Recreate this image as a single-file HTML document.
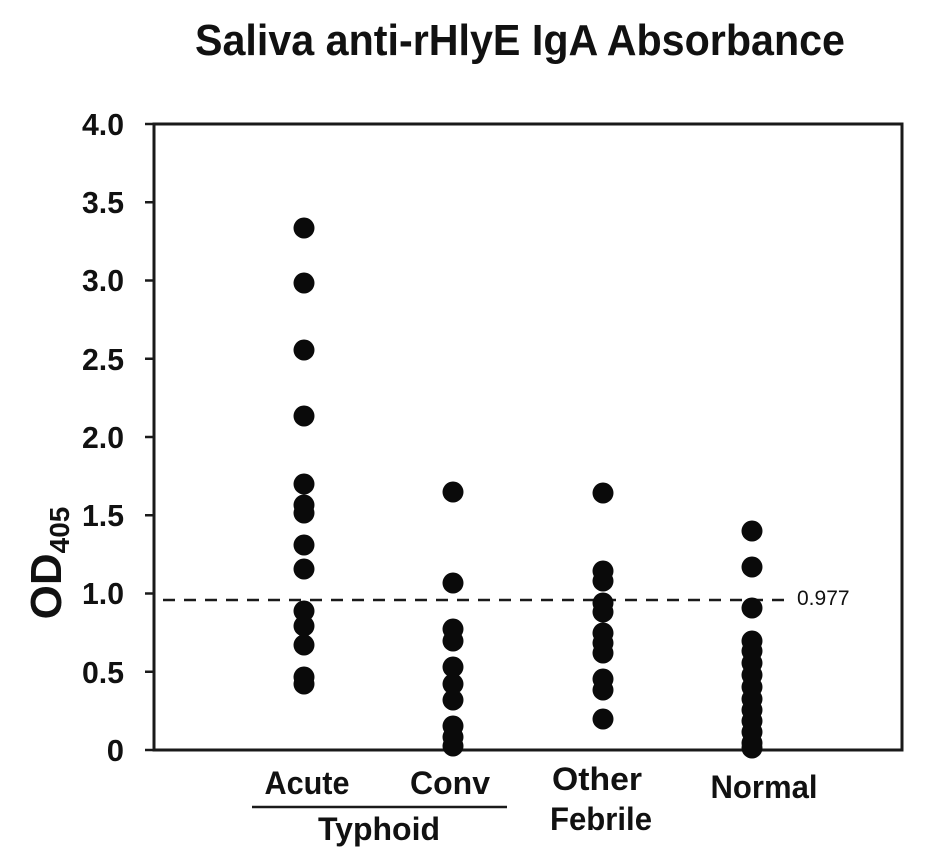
<!DOCTYPE html>
<html>
<head>
<meta charset="utf-8">
<style>
html,body{margin:0;padding:0;background:#fff;}
svg{display:block;}
text{font-family:"Liberation Sans",Arial,sans-serif;fill:#111;}
</style>
</head>
<body>
<svg width="933" height="864" viewBox="0 0 933 864" xmlns="http://www.w3.org/2000/svg">
  <rect width="933" height="864" fill="#fff"/>
  <!-- Title -->
  <text x="195" y="55" font-size="44" font-weight="bold" textLength="650" lengthAdjust="spacingAndGlyphs">Saliva anti-rHlyE IgA Absorbance</text>

  <!-- Plot frame -->
  <rect x="154" y="124" width="748" height="626" fill="none" stroke="#1a1a1a" stroke-width="3"/>

  <!-- Y ticks -->
  <g stroke="#1a1a1a" stroke-width="2.5">
    <line x1="145" y1="124" x2="154" y2="124"/>
    <line x1="145" y1="202.25" x2="154" y2="202.25"/>
    <line x1="145" y1="280.5" x2="154" y2="280.5"/>
    <line x1="145" y1="358.75" x2="154" y2="358.75"/>
    <line x1="145" y1="437" x2="154" y2="437"/>
    <line x1="145" y1="515.25" x2="154" y2="515.25"/>
    <line x1="145" y1="593.5" x2="154" y2="593.5"/>
    <line x1="145" y1="671.75" x2="154" y2="671.75"/>
    <line x1="145" y1="750" x2="154" y2="750"/>
  </g>
  <g font-size="31" font-weight="bold" text-anchor="end">
    <text x="124" y="135" textLength="42" lengthAdjust="spacingAndGlyphs">4.0</text>
    <text x="124" y="213" textLength="42" lengthAdjust="spacingAndGlyphs">3.5</text>
    <text x="124" y="291" textLength="42" lengthAdjust="spacingAndGlyphs">3.0</text>
    <text x="124" y="370" textLength="42" lengthAdjust="spacingAndGlyphs">2.5</text>
    <text x="124" y="448" textLength="42" lengthAdjust="spacingAndGlyphs">2.0</text>
    <text x="124" y="526" textLength="42" lengthAdjust="spacingAndGlyphs">1.5</text>
    <text x="124" y="604" textLength="42" lengthAdjust="spacingAndGlyphs">1.0</text>
    <text x="124" y="683" textLength="42" lengthAdjust="spacingAndGlyphs">0.5</text>
    <text x="124" y="761">0</text>
  </g>

  <!-- Y label -->
  <text transform="translate(61,563) rotate(-90)" text-anchor="middle" font-size="44" font-weight="bold">OD<tspan font-size="28" dy="8">405</tspan></text>

  <!-- Dashed cutoff -->
  <line x1="163" y1="600" x2="792" y2="600" stroke="#1a1a1a" stroke-width="2.5" stroke-dasharray="12 9"/>
  <text x="797" y="605" font-size="21" fill="#222">0.977</text>

  <!-- Dots -->
  <g fill="#0a0a0a">
    <!-- Acute -->
    <circle cx="304" cy="228" r="10.5"/>
    <circle cx="304" cy="283" r="10.5"/>
    <circle cx="304" cy="350" r="10.5"/>
    <circle cx="304" cy="416" r="10.5"/>
    <circle cx="304" cy="484" r="10.5"/>
    <circle cx="304" cy="505" r="10.5"/>
    <circle cx="304" cy="513" r="10.5"/>
    <circle cx="304" cy="545" r="10.5"/>
    <circle cx="304" cy="569" r="10.5"/>
    <circle cx="304" cy="611" r="10.5"/>
    <circle cx="304" cy="626" r="10.5"/>
    <circle cx="304" cy="645" r="10.5"/>
    <circle cx="304" cy="677" r="10.5"/>
    <circle cx="304" cy="684" r="10.5"/>
    <!-- Conv -->
    <circle cx="453" cy="492" r="10.5"/>
    <circle cx="453" cy="583" r="10.5"/>
    <circle cx="453" cy="629" r="10.5"/>
    <circle cx="453" cy="641" r="10.5"/>
    <circle cx="453" cy="667" r="10.5"/>
    <circle cx="453" cy="684" r="10.5"/>
    <circle cx="453" cy="700" r="10.5"/>
    <circle cx="453" cy="726" r="10.5"/>
    <circle cx="453" cy="737" r="10.5"/>
    <circle cx="453" cy="746" r="10.5"/>
    <!-- Other Febrile -->
    <circle cx="603" cy="493" r="10.5"/>
    <circle cx="603" cy="571" r="10.5"/>
    <circle cx="603" cy="581" r="10.5"/>
    <circle cx="603" cy="603" r="10.5"/>
    <circle cx="603" cy="612" r="10.5"/>
    <circle cx="603" cy="633" r="10.5"/>
    <circle cx="603" cy="643" r="10.5"/>
    <circle cx="603" cy="653" r="10.5"/>
    <circle cx="603" cy="679" r="10.5"/>
    <circle cx="603" cy="690" r="10.5"/>
    <circle cx="603" cy="719" r="10.5"/>
    <!-- Normal -->
    <circle cx="752" cy="531" r="10.5"/>
    <circle cx="752" cy="567" r="10.5"/>
    <circle cx="752" cy="608" r="10.5"/>
    <circle cx="752" cy="641" r="10.5"/>
    <circle cx="752" cy="651" r="10.5"/>
    <circle cx="752" cy="663" r="10.5"/>
    <circle cx="752" cy="675" r="10.5"/>
    <circle cx="752" cy="687" r="10.5"/>
    <circle cx="752" cy="699" r="10.5"/>
    <circle cx="752" cy="710" r="10.5"/>
    <circle cx="752" cy="721" r="10.5"/>
    <circle cx="752" cy="732" r="10.5"/>
    <circle cx="752" cy="743" r="10.5"/>
    <circle cx="752" cy="748" r="10.5"/>
  </g>

  <!-- X labels -->
  <g font-size="32" font-weight="bold" text-anchor="middle">
    <text x="307" y="794" textLength="85" lengthAdjust="spacingAndGlyphs">Acute</text>
    <text x="450" y="794" textLength="80" lengthAdjust="spacingAndGlyphs">Conv</text>
    <text x="597" y="790" textLength="90" lengthAdjust="spacingAndGlyphs">Other</text>
    <text x="601" y="830" textLength="102" lengthAdjust="spacingAndGlyphs">Febrile</text>
    <text x="764" y="798" textLength="107" lengthAdjust="spacingAndGlyphs">Normal</text>
    <text x="379" y="840" textLength="122" lengthAdjust="spacingAndGlyphs">Typhoid</text>
  </g>
  <line x1="252" y1="807" x2="507" y2="807" stroke="#1a1a1a" stroke-width="2.5"/>
</svg>
</body>
</html>
